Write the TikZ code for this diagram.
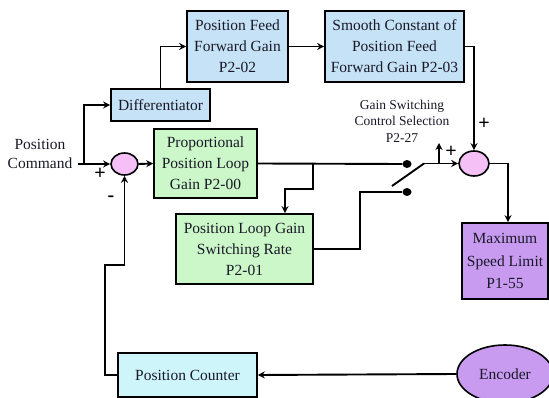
\documentclass[tikz,border=0pt]{standalone}
\usepackage{fontspec}
\setmainfont{Liberation Serif}
\usetikzlibrary{arrows.meta,shapes.geometric}
\definecolor{lblue}{RGB}{198,226,246}
\definecolor{lcyan}{RGB}{205,245,250}
\definecolor{lgreen}{RGB}{204,247,200}
\definecolor{lpink}{RGB}{245,192,245}
\definecolor{lpurple}{RGB}{200,155,240}
\definecolor{txt}{RGB}{25,25,40}
\tikzset{
  blk/.style={draw, line width=1.6pt, inner sep=0pt, align=center, text=txt,
    font=\fontsize{15.5}{21}\selectfont},
  sumnode/.style={draw, ellipse, line width=1.6pt, fill=lpink, inner sep=0pt},
  dotnode/.style={ellipse, fill=black, inner sep=0pt, minimum width=9pt, minimum height=8pt},
  lbl/.style={inner sep=0pt, align=center, text=txt},
  sgn/.style={inner sep=0pt, font=\fontsize{20}{20}\selectfont\bfseries},
  con/.style={line width=1.9pt},
  arr/.style={line width=1.9pt, -{Stealth[length=7pt,width=7pt]}}
}
\begin{document}
\begin{tikzpicture}[x=1pt,y=-1pt]
\useasboundingbox (0,0) rectangle (549,398);
\clip (0,0) rectangle (549,398);
% blocks
\node[blk, fill=lblue, minimum width=99pt, minimum height=32pt] (diff) at (160.5,105) {Differentiator};
\node[blk, fill=lblue, minimum width=101pt, minimum height=71pt] (pff) at (237.5,46.5) {Position Feed\\Forward Gain\\P2-02};
\node[blk, fill=lblue, minimum width=139pt, minimum height=71pt] (smooth) at (394.5,46.5) {Smooth Constant of\\Position Feed\\Forward Gain P2-03};
\node[blk, fill=lgreen, minimum width=103pt, minimum height=69pt] (prop) at (205.5,163.5) {Proportional\\Position Loop\\Gain P2-00};
\node[blk, fill=lgreen, minimum width=137pt, minimum height=70pt] (plgsr) at (244.5,249) {Position Loop Gain\\Switching Rate\\P2-01};
\node[blk, fill=lpurple, minimum width=86pt, minimum height=76pt, font=\fontsize{15.5}{22.5}\selectfont] (msl) at (505,261) {Maximum\\Speed Limit\\P1-55};
\node[blk, fill=lcyan, minimum width=139pt, minimum height=44pt] (pc) at (187.5,375) {Position Counter};
\node[blk, ellipse, fill=lpurple, minimum width=96pt, minimum height=58pt] (enc) at (505,374) {Encoder};
\node[sumnode, minimum width=27pt, minimum height=22pt] (sum1) at (124.5,164) {};
\node[sumnode, minimum width=30pt, minimum height=25pt] (sum2) at (474,163.5) {};
\node[dotnode] (d1) at (407,164) {};
\node[dotnode] (d2) at (407,192) {};
% labels
\node[lbl, font=\fontsize{15.5}{19}\selectfont] (cmd) at (40,154) {Position\\Command};
\node[lbl, font=\fontsize{13.5}{16.5}\selectfont] (gsc) at (402,121) {Gain Switching\\Control Selection\\P2-27};
\node[sgn] (p1) at (100,174) {+};
\node[sgn] (m1) at (111,199) {-};
\node[sgn] (p2) at (484,124) {+};
\node[sgn] (p3) at (451,152) {+};
% coordinates
\coordinate (cin) at (78,164);
\coordinate (br1) at (84,164);
\coordinate (br2) at (313,163.5);
\coordinate (swa) at (392,186);
\coordinate (swb) at (424,163.5);
\coordinate (up) at (439,163.5);
% connectors
\draw[arr] (cin) -- (sum1.west);
\draw[arr] (br1) |- (diff.west);
\draw[arr] (diff.north) |- (pff.west);
\draw[arr] (pff.east) -- (smooth.west);
\draw[arr] (smooth.east) -| (sum2.north);
\draw[arr] (sum1.east) -- (prop.west);
\draw[con] (prop.east) -- (d1.west);
\draw[arr] (br2) |- (285,189) -- (285,189 |- plgsr.north);
\draw[con] (plgsr.east) -| (360,192) -- (d2.west);
\draw[con] (swa) -- (swb);
\draw[arr] (swb) -- (sum2.west);
\draw[arr] (up) -- (439,143);
\draw[arr] (sum2.east) -| ([xshift=3pt]msl.north);
\draw[arr] (pc.west) -- (105,375) -- (105,265) -- (124.5,265) -- (sum1.south);
\draw[arr] (enc.west) -- (pc.east);
\end{tikzpicture}
\end{document}
